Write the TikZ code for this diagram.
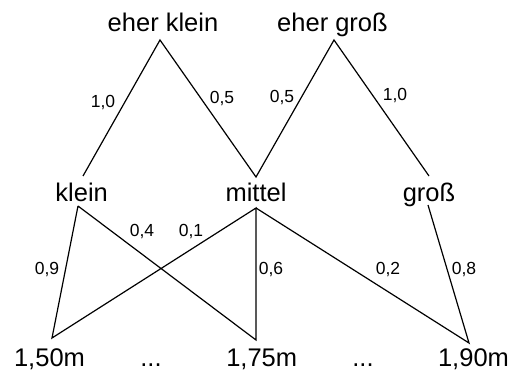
\documentclass[tikz,border=0pt]{standalone}
\usepackage{fontspec}
\setmainfont{Liberation Sans}
\begin{document}
\begin{tikzpicture}[x=1pt,y=-1pt,
  big/.style={inner sep=0pt,anchor=base,font=\fontsize{25.5}{25.5}\selectfont},
  lab/.style={inner sep=0pt,anchor=base,font=\fontsize{17.5}{17.5}\selectfont},
  edge/.style={line width=1.2pt,line join=miter}]
\useasboundingbox (0,0) rectangle (511,371);
% texts
\node[big] (ek) at (163,31.7) {eher klein};
\node[big] (eg) at (332.5,31.7) {eher groß};
\node[big] (kl) at (81.7,202) {klein};
\node[big] (mi) at (256,202) {mittel};
\node[big] (gr) at (429,202) {groß};
\node[big] (h150) at (49.5,366.5) {1,50m};
\node[big] (d1) at (151,366.5) {...};
\node[big] (h175) at (261.7,366.5) {1,75m};
\node[big] (d2) at (363,366.5) {...};
\node[big] (h190) at (473.5,366.5) {1,90m};
% line end points
\coordinate (ekB) at (160,40);
\coordinate (egB) at (334,40);
\coordinate (klT) at (83,176);
\coordinate (miT) at (256,177);
\coordinate (grT) at (429,176);
\coordinate (klB) at (78,206);
\coordinate (miB) at (256,208);
\coordinate (grB) at (428,205);
\coordinate (p150) at (52,338);
\coordinate (p175) at (256,340);
\coordinate (p190) at (469,343);
% upper connectors
\draw[edge] (klT) -- (ekB) -- (miT) -- (egB) -- (grT);
% lower connectors
\draw[edge] (klB) -- (p150) -- (miB) -- (p175) -- (klB);
\draw[edge] (miB) -- (p190) -- (grB);
% labels
\node[lab] (l1) at (103,108) {1,0};
\node[lab] (l2) at (222,104) {0,5};
\node[lab] (l3) at (282,103) {0,5};
\node[lab] (l4) at (395,101) {1,0};
\node[lab] (l5) at (47,275) {0,9};
\node[lab] (l6) at (142,237) {0,4};
\node[lab] (l7) at (191,237) {0,1};
\node[lab] (l8) at (271,275) {0,6};
\node[lab] (l9) at (388,275) {0,2};
\node[lab] (l10) at (464,275) {0,8};
\end{tikzpicture}
\end{document}
